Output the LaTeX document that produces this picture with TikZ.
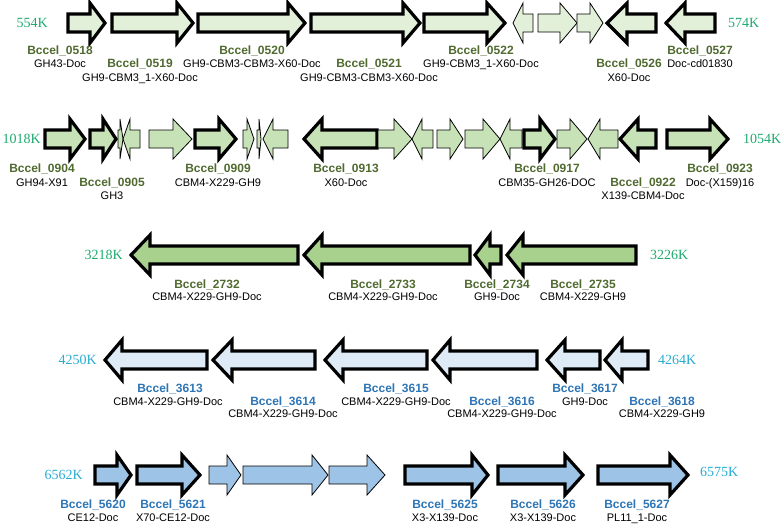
\documentclass[tikz,border=0pt]{standalone}
\usepackage{fontspec}
\setmainfont{Liberation Sans}
\newfontfamily\posfont{Liberation Serif}
\definecolor{cA}{RGB}{226,240,217}
\definecolor{cB}{RGB}{200,226,184}
\definecolor{cC}{RGB}{169,209,142}
\definecolor{cD}{RGB}{222,235,247}
\definecolor{cE}{RGB}{157,195,230}
\definecolor{ngreen}{RGB}{80,106,48}
\definecolor{nblue}{RGB}{46,117,182}
\definecolor{pgreen}{RGB}{30,170,110}
\definecolor{pblue}{RGB}{40,172,210}
\tikzset{
  gthick/.style={draw=black,line width=3.2pt,line join=miter},
  gthin/.style={draw=black,line width=0.8pt,line join=miter},
  gname/.style={font=\fontsize{12}{12}\selectfont\bfseries,anchor=base,inner sep=0pt},
  gng/.style={gname,text=ngreen},
  gnb/.style={gname,text=nblue},
  gsub/.style={font=\fontsize{11}{11}\selectfont,anchor=base,inner sep=0pt,text=black},
  gpos/.style={font=\fontsize{14}{14}\selectfont\posfont,inner sep=0pt},
  gpg/.style={gpos,text=pgreen},
  gpb/.style={gpos,text=pblue}
}
% right-pointing gene: style, left, head start, tip, y
\newcommand{\GR}[5]{\draw[#1] ({#2},{#5-9}) -- ({#3},{#5-9}) -- ({#3},{#5-20}) -- ({#4},{#5}) -- ({#3},{#5+20}) -- ({#3},{#5+9}) -- ({#2},{#5+9}) -- cycle;}
% left-pointing gene: style, tip, head end, right, y
\newcommand{\GL}[5]{\draw[#1] ({#4},{#5-9}) -- ({#3},{#5-9}) -- ({#3},{#5-20}) -- ({#2},{#5}) -- ({#3},{#5+20}) -- ({#3},{#5+9}) -- ({#4},{#5+9}) -- cycle;}
\begin{document}
\begin{tikzpicture}[x=1pt,y=-1pt]
\useasboundingbox (0,0) rectangle (784,523);
% ---------- row 1 ----------
\GR{gthick,fill=cA}{68}{90}{105}{23}
\GR{gthick,fill=cA}{112}{177}{193}{23}
\GR{gthick,fill=cA}{198}{288}{305}{23}
\GR{gthick,fill=cA}{311}{403}{420}{23}
\GR{gthick,fill=cA}{424}{487}{505}{23}
\GL{gthin,fill=cA}{513}{523}{533}{23}
\GR{gthin,fill=cA}{538}{560}{577}{23}
\GR{gthin,fill=cA}{577}{590}{603}{23}
\GL{gthick,fill=cA}{607}{627}{656}{23}
\GL{gthick,fill=cA}{666}{685}{715}{23}
\node[gpg,anchor=east] (p554) at (48,23) {554K};
\node[gpg,anchor=west] (p574) at (728,23) {574K};
\node[gng] (n0518) at (60,54) {Bccel\_0518};
\node[gsub] (s0518) at (60,67) {GH43-Doc};
\node[gng] (n0519) at (140,67) {Bccel\_0519};
\node[gsub] (s0519) at (140,81) {GH9-CBM3\_1-X60-Doc};
\node[gng] (n0520) at (252,54) {Bccel\_0520};
\node[gsub] (s0520) at (252,67) {GH9-CBM3-CBM3-X60-Doc};
\node[gng] (n0521) at (369,67) {Bccel\_0521};
\node[gsub] (s0521) at (369,81) {GH9-CBM3-CBM3-X60-Doc};
\node[gng] (n0522) at (481,54) {Bccel\_0522};
\node[gsub] (s0522) at (481,67) {GH9-CBM3\_1-X60-Doc};
\node[gng] (n0526) at (629,67) {Bccel\_0526};
\node[gsub] (s0526) at (629,81) {X60-Doc};
\node[gng] (n0527) at (700,54) {Bccel\_0527};
\node[gsub] (s0527) at (700,67) {Doc-cd01830};
% ---------- row 2 ----------
\GR{gthick,fill=cB}{45}{70}{85}{139}
\GR{gthick,fill=cB}{90}{103}{116}{139}
\GR{gthin,fill=cB}{118}{120}{123}{139}
\GL{gthin,fill=cB}{123}{130}{140}{139}
\GR{gthin,fill=cB}{149}{173}{192}{139}
\GR{gthick,fill=cB}{195}{219}{236}{139}
\GR{gthin,fill=cB}{243}{247}{254}{139}
\GR{gthin,fill=cB}{257}{259}{261}{139}
\GL{gthin,fill=cB}{263}{273}{288}{139}
\GL{gthick,fill=cB}{304}{322}{377}{139}
\GR{gthin,fill=cB}{378}{394}{412}{139}
\GL{gthin,fill=cB}{412}{422}{433}{139}
\GR{gthin,fill=cB}{437}{450}{463}{139}
\GR{gthin,fill=cB}{465}{483}{500}{139}
\GL{gthin,fill=cB}{500}{510}{522}{139}
\GR{gthick,fill=cB}{524}{540}{555}{139}
\GR{gthin,fill=cB}{557}{570}{587}{139}
\GL{gthin,fill=cB}{588}{600}{618}{139}
\GL{gthick,fill=cB}{620}{638}{656}{139}
\GR{gthick,fill=cB}{667}{710}{728}{139}
\node[gpg,anchor=east] (p1018) at (41,139) {1018K};
\node[gpg,anchor=west] (p1054) at (743,139) {1054K};
\node[gng] (n0904) at (42,172) {Bccel\_0904};
\node[gsub] (s0904) at (42,186) {GH94-X91};
\node[gng] (n0905) at (112,186) {Bccel\_0905};
\node[gsub] (s0905) at (112,199) {GH3};
\node[gng] (n0909) at (218,172) {Bccel\_0909};
\node[gsub] (s0909) at (218,186) {CBM4-X229-GH9};
\node[gng] (n0913) at (346,172) {Bccel\_0913};
\node[gsub] (s0913) at (346,186) {X60-Doc};
\node[gng] (n0917) at (547,172) {Bccel\_0917};
\node[gsub] (s0917) at (547,186) {CBM35-GH26-DOC};
\node[gng] (n0922) at (643,186) {Bccel\_0922};
\node[gsub] (s0922) at (643,199) {X139-CBM4-Doc};
\node[gng] (n0923) at (720,172) {Bccel\_0923};
\node[gsub] (s0923) at (720,186) {Doc-(X159)16};
% ---------- row 3 ----------
\GL{gthick,fill=cC}{131}{150}{298}{255}
\GL{gthick,fill=cC}{304}{322}{470}{255}
\GL{gthick,fill=cC}{475}{490}{501}{255}
\GL{gthick,fill=cC}{507}{523}{636}{255}
\node[gpg,anchor=east] (p3218) at (123,255) {3218K};
\node[gpg,anchor=west] (p3226) at (650,255) {3226K};
\node[gng] (n2732) at (207,288) {Bccel\_2732};
\node[gsub] (s2732) at (207,300) {CBM4-X229-GH9-Doc};
\node[gng] (n2733) at (383,288) {Bccel\_2733};
\node[gsub] (s2733) at (383,300) {CBM4-X229-GH9-Doc};
\node[gng] (n2734) at (497,288) {Bccel\_2734};
\node[gsub] (s2734) at (497,300) {GH9-Doc};
\node[gng] (n2735) at (583,288) {Bccel\_2735};
\node[gsub] (s2735) at (583,300) {CBM4-X229-GH9};
% ---------- row 4 ----------
\GL{gthick,fill=cD}{105}{122}{207}{360}
\GL{gthick,fill=cD}{213}{232}{315}{360}
\GL{gthick,fill=cD}{325}{343}{427}{360}
\GL{gthick,fill=cD}{433}{450}{537}{360}
\GL{gthick,fill=cD}{547}{565}{600}{360}
\GL{gthick,fill=cD}{605}{622}{648}{360}
\node[gpb,anchor=east] (p4250) at (97,360) {4250K};
\node[gpb,anchor=west] (p4264) at (658,360) {4264K};
\node[gnb] (n3613) at (170,392) {Bccel\_3613};
\node[gsub] (s3613) at (168,405) {CBM4-X229-GH9-Doc};
\node[gnb] (n3614) at (283,405) {Bccel\_3614};
\node[gsub] (s3614) at (283,417) {CBM4-X229-GH9-Doc};
\node[gnb] (n3615) at (396,392) {Bccel\_3615};
\node[gsub] (s3615) at (396,405) {CBM4-X229-GH9-Doc};
\node[gnb] (n3616) at (502,405) {Bccel\_3616};
\node[gsub] (s3616) at (502,417) {CBM4-X229-GH9-Doc};
\node[gnb] (n3617) at (585,392) {Bccel\_3617};
\node[gsub] (s3617) at (585,405) {GH9-Doc};
\node[gnb] (n3618) at (662,405) {Bccel\_3618};
\node[gsub] (s3618) at (662,417) {CBM4-X229-GH9};
% ---------- row 5 ----------
\GR{gthick,fill=cE}{95}{117}{131}{475}
\GR{gthick,fill=cE}{137}{182}{200}{475}
\GR{gthin,fill=cE}{209}{227}{241}{475}
\GR{gthin,fill=cE}{243}{312}{328}{475}
\GR{gthin,fill=cE}{329}{367}{385}{475}
\GR{gthick,fill=cE}{405}{472}{488}{475}
\GR{gthick,fill=cE}{498}{565}{583}{475}
\GR{gthick,fill=cE}{598}{670}{688}{475}
\node[gpb,anchor=east] (p6562) at (83,475) {6562K};
\node[gpb,anchor=west] (p6575) at (700,472) {6575K};
\node[gnb] (n5620) at (93,508) {Bccel\_5620};
\node[gsub] (s5620) at (93,521) {CE12-Doc};
\node[gnb] (n5621) at (173,508) {Bccel\_5621};
\node[gsub] (s5621) at (173,521) {X70-CE12-Doc};
\node[gnb] (n5625) at (445,508) {Bccel\_5625};
\node[gsub] (s5625) at (445,521) {X3-X139-Doc};
\node[gnb] (n5626) at (543,508) {Bccel\_5626};
\node[gsub] (s5626) at (543,521) {X3-X139-Doc};
\node[gnb] (n5627) at (637,508) {Bccel\_5627};
\node[gsub] (s5627) at (637,521) {PL11\_1-Doc};
\end{tikzpicture}
\end{document}
